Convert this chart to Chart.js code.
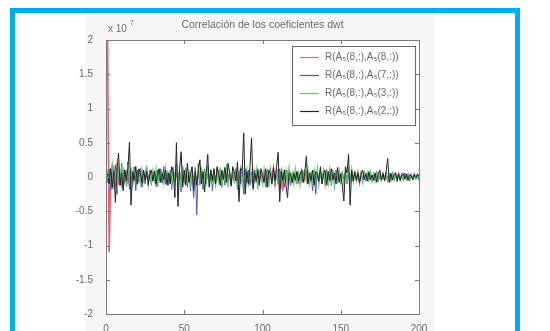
<!DOCTYPE html>
<html>
<head>
<meta charset="utf-8">
<script src="https://cdn.jsdelivr.net/npm/chart.js@4"></script>
<style>
    body { margin: 0; width: 550px; height: 331px; background: #fff; overflow: hidden; position: relative; }
    #frame { position: absolute; left: 10px; top: 8px; width: 500px; height: 340px; border: 5px solid #00aeef; border-bottom: none; }
    #fig { position: absolute; left: 85px; top: 13px; width: 350px; height: 318px; background: #f6f6f6; }
    #corrChart { position: absolute; left: 70px; top: 13px; }
</style>
</head>
<body>
<div id="frame"></div>
<div id="fig"></div>
<canvas id="corrChart" width="365" height="318"></canvas>
<script>
// valores en unidades de 10^7, un punto por retardo 1..200 (índices de MATLAB)
const lags = [];
for (let i = 1; i <= 200; i++) lags.push(i);

const redValues = [
    2.00, -1.10, 0.12, -0.18, 0.10, -0.08, 0.14, -0.06, 0.05, -0.10,
    0.08, -0.05, 0.06, -0.08, 0.04, 0.10, -0.06, 0.05, -0.04, 0.06,
    -0.05, 0.08, -0.06, 0.04, -0.05, 0.06, -0.04, 0.05, -0.06, 0.04,
    0.05, -0.04, 0.06, -0.05, 0.04, -0.06, 0.05, -0.04, 0.06, -0.05,
    0.04, -0.06, 0.08, -0.05, 0.06, -0.04, 0.05, -0.08, 0.06, -0.05,
    0.08, -0.06, 0.04, -0.05, 0.06, -0.04, 0.05, -0.06, 0.04, -0.05,
    0.06, -0.04, 0.05, -0.06, 0.04, -0.05, 0.06, -0.04, 0.05, -0.06,
    0.04, -0.05, 0.06, -0.04, 0.05, -0.06, 0.04, -0.05, 0.06, -0.04,
    0.05, -0.06, 0.04, -0.05, 0.06, -0.04, 0.05, -0.06, 0.04, -0.05,
    0.06, -0.04, 0.05, -0.06, 0.04, -0.05, 0.06, -0.04, 0.05, -0.06,
    0.04, -0.05, 0.06, -0.08, 0.10, -0.06, 0.12, -0.10, 0.08, 0.10,
    -0.12, 0.06, -0.20, 0.05, -0.04, 0.06, -0.05, 0.04, -0.06, 0.05,
    -0.04, 0.05, -0.06, 0.04, -0.05, 0.06, -0.04, 0.05, -0.06, 0.04,
    0.05, -0.04, 0.06, -0.05, 0.04, -0.06, 0.05, -0.04, 0.08, -0.10,
    0.06, -0.08, 0.05, -0.04, 0.06, -0.05, 0.04, -0.06, 0.05, -0.04,
    0.04, -0.03, 0.05, -0.04, 0.03, -0.05, 0.04, -0.03, 0.05, -0.04,
    0.06, -0.08, 0.05, -0.06, 0.04, -0.03, 0.05, -0.04, 0.03, -0.05,
    0.04, -0.03, 0.05, -0.04, 0.03, -0.04, 0.05, -0.03, 0.04, -0.05,
    0.03, -0.04, 0.05, -0.03, 0.04, -0.03, 0.05, -0.04, 0.03, -0.04,
    0.03, -0.02, 0.04, -0.03, 0.02, -0.03, 0.04, -0.02, 0.03, -0.02
];

const blueValues = [
    -0.08, 0.12, -0.20, 0.15, -0.10, 0.18, -0.25, 0.08, -0.12, 0.20,
    -0.15, 0.10, -0.08, 0.22, -0.18, 0.06, -0.12, 0.15, -0.20, 0.10,
    -0.06, 0.12, -0.15, 0.08, -0.10, 0.14, -0.06, 0.10, -0.12, 0.05,
    0.08, -0.14, 0.10, -0.06, 0.12, -0.08, 0.15, -0.10, 0.06, -0.12,
    0.10, -0.18, 0.14, -0.08, 0.20, -0.12, 0.10, -0.22, 0.15, -0.08,
    0.12, -0.15, 0.08, -0.20, 0.10, -0.30, 0.14, -0.55, 0.20, -0.12,
    0.08, -0.18, 0.12, -0.10, 0.15, -0.08, 0.10, -0.20, 0.06, -0.12,
    0.14, -0.08, 0.10, -0.15, 0.06, -0.12, 0.18, -0.10, 0.08, -0.14,
    0.10, -0.06, 0.12, -0.18, 0.08, -0.10, 0.14, -0.25, 0.12, -0.08,
    0.10, -0.12, 0.06, -0.15, 0.10, -0.08, 0.12, -0.06, 0.08, -0.10,
    0.06, -0.14, 0.10, -0.08, 0.12, -0.05, 0.08, -0.12, 0.06, -0.10,
    0.12, -0.08, 0.05, -0.15, 0.10, -0.06, 0.08, -0.12, 0.06, -0.05,
    0.08, -0.10, 0.06, -0.08, 0.12, -0.06, 0.10, -0.05, 0.08, -0.12,
    0.06, -0.20, 0.10, -0.25, 0.08, -0.06, 0.12, -0.10, 0.05, -0.08,
    0.10, -0.06, 0.08, -0.12, 0.05, -0.08, 0.10, -0.06, 0.04, -0.10,
    0.08, -0.05, 0.06, -0.10, 0.04, -0.06, 0.08, -0.05, 0.06, -0.04,
    0.05, -0.08, 0.06, -0.04, 0.08, -0.06, 0.05, -0.04, 0.06, -0.05,
    0.06, -0.05, 0.08, -0.06, 0.05, -0.07, 0.06, -0.05, 0.07, -0.06,
    0.05, -0.06, 0.07, -0.05, 0.06, -0.07, 0.05, -0.06, 0.05, -0.04,
    0.06, -0.05, 0.04, -0.06, 0.05, -0.04, 0.05, -0.03, 0.04, -0.05
];

const greenValues = [
    0.10, -0.15, 0.08, 0.20, -0.12, 0.05, -0.18, 0.12, -0.06, 0.15,
    -0.10, 0.08, -0.14, 0.18, -0.05, 0.10, -0.12, 0.06, 0.14, -0.08,
    0.05, -0.10, 0.12, -0.06, 0.08, 0.15, -0.12, 0.04, -0.08, 0.10,
    -0.05, 0.12, -0.15, 0.08, -0.04, 0.06, -0.10, 0.14, -0.06, 0.05,
    0.08, -0.12, 0.10, -0.05, 0.16, -0.10, 0.06, -0.14, 0.12, -0.04,
    0.10, -0.06, 0.08, -0.12, 0.14, -0.08, 0.05, -0.10, 0.12, -0.06,
    0.15, -0.10, 0.06, -0.08, 0.12, -0.14, 0.08, -0.05, 0.10, -0.12,
    0.06, -0.08, 0.14, -0.10, 0.05, -0.06, 0.12, -0.15, 0.08, -0.04,
    0.10, -0.06, 0.08, -0.12, 0.05, 0.14, -0.10, 0.06, -0.08, 0.12,
    -0.14, 0.08, -0.05, 0.10, -0.06, 0.12, -0.18, 0.08, 0.05, -0.10,
    0.12, -0.06, 0.08, -0.14, 0.10, -0.05, 0.06, -0.08, 0.12, -0.10,
    0.05, -0.12, 0.08, -0.06, 0.10, -0.08, 0.14, -0.05, 0.06, -0.10,
    0.12, -0.08, 0.06, -0.12, 0.10, -0.05, 0.08, -0.06, 0.12, -0.10,
    0.06, -0.08, 0.10, -0.05, 0.14, -0.12, 0.08, -0.06, 0.10, -0.08,
    0.05, -0.10, 0.12, -0.06, 0.08, -0.14, 0.06, -0.05, 0.10, -0.08,
    0.06, -0.12, 0.08, -0.05, 0.10, -0.06, 0.12, -0.08, 0.05, -0.06,
    0.08, -0.05, 0.06, -0.08, 0.05, -0.04, 0.06, -0.05, 0.08, -0.06,
    0.04, -0.06, 0.05, -0.04, 0.06, -0.05, 0.04, -0.03, 0.05, -0.04,
    0.03, -0.05, 0.04, -0.03, 0.05, -0.04, 0.03, -0.02, 0.04, -0.03,
    0.02, -0.03, 0.04, -0.02, 0.03, -0.02, 0.02, -0.03, 0.02, -0.01
];

const blackValues = [
    0.05, -0.10, 0.12, -0.15, 0.08, -0.37, 0.10, 0.35, -0.12, 0.06,
    -0.20, 0.10, -0.06, 0.12, 0.51, -0.41, 0.08, -0.05, 0.15, -0.10,
    0.12, 0.05, -0.08, 0.10, -0.04, 0.08, -0.12, 0.04, 0.10, -0.06,
    0.08, -0.10, 0.04, 0.12, -0.08, 0.05, -0.04, 0.10, -0.12, 0.06,
    -0.10, 0.15, 0.08, -0.30, 0.50, -0.43, 0.12, 0.37, -0.15, 0.10,
    -0.12, 0.20, -0.08, 0.05, 0.15, -0.20, 0.08, -0.12, 0.10, 0.25,
    -0.10, 0.08, -0.22, 0.05, 0.33, -0.15, 0.10, -0.05, 0.12, -0.10,
    0.15, 0.06, -0.12, 0.10, -0.04, 0.14, -0.08, 0.20, 0.05, -0.12,
    0.15, 0.08, -0.06, 0.22, -0.36, 0.12, 0.10, 0.64, -0.25, 0.08,
    -0.10, 0.15, 0.57, -0.18, 0.06, -0.05, 0.10, -0.12, 0.12, 0.04,
    -0.08, 0.12, -0.15, 0.10, 0.05, -0.10, 0.14, -0.06, 0.15, 0.36,
    -0.36, 0.08, -0.05, 0.10, -0.12, -0.30, 0.06, 0.04, -0.08, 0.05,
    -0.04, 0.08, -0.06, 0.04, 0.10, -0.08, 0.05, 0.30, -0.10, 0.06,
    -0.05, 0.10, -0.12, 0.08, 0.04, -0.06, 0.15, -0.10, 0.05, 0.10,
    -0.12, 0.08, -0.05, 0.12, -0.04, 0.06, -0.10, 0.14, -0.08, 0.05,
    -0.12, -0.35, 0.15, 0.06, 0.33, -0.41, 0.10, -0.06, 0.08, -0.05,
    0.06, -0.08, 0.04, 0.10, -0.04, 0.05, -0.06, 0.08, -0.04, 0.03,
    -0.05, 0.06, -0.08, 0.04, 0.10, -0.04, 0.05, -0.06, 0.08, 0.27,
    -0.08, 0.05, -0.04, 0.04, 0.06, -0.05, 0.04, -0.04, 0.03, 0.05,
    -0.03, 0.04, -0.05, 0.03, 0.02, -0.04, 0.03, -0.02, 0.04, 0.02
];

const seriesLabels = [
    "R(A\u2085(8,:),A\u2085(8,:))",
    "R(A\u2085(8,:),A\u2085(7,:))",
    "R(A\u2085(8,:),A\u2085(3,:))",
    "R(A\u2085(8,:),A\u2085(2,:))"
];
const seriesColors = ["rgb(240,90,115)", "rgb(85,85,180)", "rgb(95,200,115)", "rgb(35,35,35)"];
const seriesWidths = [1.6, 1, 1.2, 1];

const chartTitle = "Correlación de los coeficientes dwt";
const xTicks = [0, 50, 100, 150, 200];
const yTicks = [-2, -1.5, -1, -0.5, 0, 0.5, 1, 1.5, 2];

const textColor = "#6a6a6a";
const fontFamily = "'Liberation Sans', Arial, sans-serif";

// ejes estilo MATLAB: caja, marcas hacia dentro, título, exponente y leyenda
const matlabPlugin = {
    id: "matlabStyle",
    beforeDatasetsDraw(chart) {
        const { ctx, chartArea: a } = chart;
        ctx.save();
        ctx.fillStyle = "#fff";
        ctx.fillRect(a.left, a.top, a.right - a.left, a.bottom - a.top);
        ctx.restore();
    },
    afterDraw(chart) {
        const { ctx, chartArea: a, scales } = chart;
        ctx.save();
        ctx.strokeStyle = "#7a7a7a";
        ctx.lineWidth = 1;
        ctx.strokeRect(Math.round(a.left) + 0.5, Math.round(a.top) + 0.5,
            Math.round(a.right - a.left), Math.round(a.bottom - a.top));

        ctx.beginPath();
        xTicks.forEach(v => {
            const px = Math.round(scales.x.getPixelForValue(v)) + 0.5;
            ctx.moveTo(px, a.bottom); ctx.lineTo(px, a.bottom - 4);
            ctx.moveTo(px, a.top); ctx.lineTo(px, a.top + 4);
        });
        yTicks.forEach(v => {
            const py = Math.round(scales.y.getPixelForValue(v)) + 0.5;
            ctx.moveTo(a.left, py); ctx.lineTo(a.left + 4, py);
            ctx.moveTo(a.right, py); ctx.lineTo(a.right - 4, py);
        });
        ctx.stroke();

        // título
        ctx.fillStyle = textColor;
        ctx.font = "10.5px " + fontFamily;
        ctx.textAlign = "center";
        ctx.textBaseline = "middle";
        ctx.fillText(chartTitle, (a.left + a.right) / 2, 12);

        // exponente del eje y
        ctx.textAlign = "left";
        ctx.font = "10px " + fontFamily;
        ctx.fillText("x 10", a.left + 2, 16);
        ctx.font = "7px " + fontFamily;
        ctx.fillText("7", a.left + 24, 10);

        // leyenda
        const lx = 222, ly = 33, lw = 123, lh = 79;
        ctx.fillStyle = "#fff";
        ctx.fillRect(lx, ly, lw, lh);
        ctx.strokeStyle = "#6a6a6a";
        ctx.strokeRect(lx + 0.5, ly + 0.5, lw, lh);
        ctx.font = "10px " + fontFamily;
        seriesLabels.forEach((label, i) => {
            const y = ly + 11 + i * 18;
            ctx.strokeStyle = seriesColors[i];
            ctx.lineWidth = 1.2;
            ctx.beginPath();
            ctx.moveTo(lx + 8, y + 0.5);
            ctx.lineTo(lx + 27, y + 0.5);
            ctx.stroke();
            ctx.fillStyle = textColor;
            ctx.fillText(label, lx + 33, y);
        });
        ctx.restore();
    }
};

const seriesData = [redValues, blueValues, greenValues, blackValues];

const ctx = document.getElementById("corrChart").getContext("2d");
const corrChart = new Chart(ctx, {
    type: "line",
    data: {
        labels: lags,
        datasets: seriesData.map((vals, i) => ({
            label: seriesLabels[i],
            data: vals.map((v, k) => ({ x: lags[k], y: v })),
            borderColor: seriesColors[i],
            borderWidth: seriesWidths[i],
            pointRadius: 0,
            tension: 0,
            fill: false,
            order: 3 - i // la serie negra queda encima
        }))
    },
    options: {
        responsive: false,
        animation: false,
        events: [],
        layout: { padding: { top: 27, right: 16, left: 0, bottom: 0 } },
        plugins: {
            legend: { display: false },
            tooltip: { enabled: false }
        },
        scales: {
            x: {
                type: "linear",
                min: 0,
                max: 200,
                afterBuildTicks: (scale) => { scale.ticks = xTicks.map(v => ({ value: v })); },
                afterFit: (scale) => { scale.height = 17; },
                grid: { display: false },
                border: { display: false },
                ticks: { color: textColor, font: { size: 10, family: fontFamily }, padding: 1, maxRotation: 0 }
            },
            y: {
                min: -2,
                max: 2,
                afterBuildTicks: (scale) => { scale.ticks = yTicks.map(v => ({ value: v })); },
                afterFit: (scale) => { scale.width = 36; },
                grid: { display: false },
                border: { display: false },
                ticks: { color: textColor, font: { size: 10, family: fontFamily }, padding: 5,
                    callback: (v) => String(v) }
            }
        }
    },
    plugins: [matlabPlugin]
});
</script>
</body>
</html>
